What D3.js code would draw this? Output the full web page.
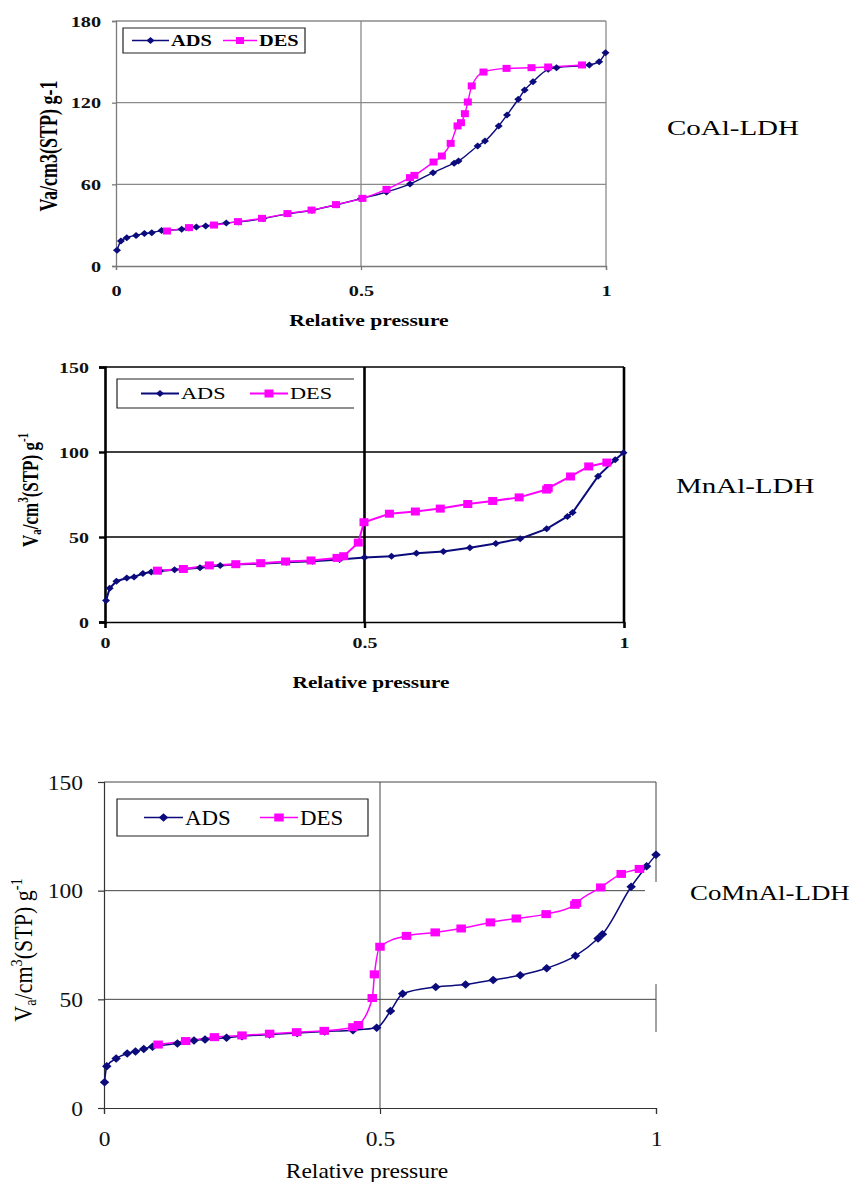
<!DOCTYPE html>
<html>
<head>
<meta charset="utf-8">
<script src="https://cdn.jsdelivr.net/npm/d3@7"></script>
<style>
  body { margin: 0; background: #fff; }
  svg { display: block; }
</style>
</head>
<body>
<svg id="chart" width="858" height="1182"></svg>
<script>
// CoAl-LDH isotherm
var coalAdsP = [0.002, 0.01, 0.022, 0.041, 0.058, 0.073, 0.093, 0.134, 0.149, 0.164, 0.183, 0.225, 0.25, 0.3, 0.35, 0.4, 0.45, 0.5, 0.552, 0.6, 0.647, 0.69, 0.699, 0.738, 0.753, 0.781, 0.798, 0.821, 0.834, 0.851, 0.882, 0.899, 0.966, 0.986, 0.999];
var coalAdsV = [11.5, 18.4, 20.8, 22.5, 23.8, 24.5, 26, 27, 27.9, 28.7, 29.4, 31.6, 32.4, 34.8, 38.3, 41, 45, 49.5, 54.4, 60.2, 68.6, 75.5, 77.1, 88.2, 91.8, 102.9, 111, 122.5, 129.3, 135.4, 144.5, 145.7, 147.7, 150.1, 156.7];
var coalDesP = [0.104, 0.149, 0.2, 0.249, 0.298, 0.35, 0.399, 0.449, 0.503, 0.552, 0.6, 0.609, 0.648, 0.665, 0.683, 0.697, 0.704, 0.712, 0.718, 0.726, 0.75, 0.797, 0.848, 0.882, 0.951];
var coalDesV = [25.7, 28.2, 30.1, 32.6, 35, 38.5, 41.1, 45.1, 49.7, 56.3, 64.9, 66.6, 76.4, 80.8, 90.1, 102.9, 105.3, 111.9, 120.5, 132.3, 142.5, 145.2, 145.7, 146.2, 147.7];

// MnAl-LDH isotherm
var mnalAdsP = [0.002, 0.009, 0.022, 0.042, 0.056, 0.073, 0.089, 0.106, 0.134, 0.183, 0.222, 0.25, 0.3, 0.35, 0.4, 0.452, 0.5, 0.552, 0.6, 0.652, 0.703, 0.753, 0.8, 0.851, 0.891, 0.901, 0.95, 0.983, 0.999];
var mnalAdsV = [12.7, 19.8, 24, 25.9, 26.5, 28.5, 29.4, 30, 30.8, 31.9, 33.3, 33.8, 34.3, 35.1, 35.8, 36.7, 37.9, 38.7, 40.4, 41.5, 43.7, 46.2, 49, 54.8, 62.1, 64.4, 85.8, 95.4, 99.6];
var mnalDesP = [0.101, 0.151, 0.201, 0.252, 0.3, 0.348, 0.397, 0.447, 0.46, 0.488, 0.499, 0.548, 0.598, 0.646, 0.699, 0.747, 0.798, 0.851, 0.854, 0.897, 0.932, 0.967];
var mnalDesV = [30.2, 31.2, 33.3, 34, 34.6, 35.6, 36.2, 37.7, 38.7, 46.7, 58.7, 63.7, 65, 66.7, 69.4, 71.2, 73.3, 77.9, 78.8, 85.6, 91.5, 93.8];

// CoMnAl-LDH isotherm
var comnalAdsP = [0.001, 0.005, 0.022, 0.042, 0.057, 0.072, 0.088, 0.133, 0.163, 0.183, 0.222, 0.25, 0.3, 0.35, 0.4, 0.451, 0.494, 0.519, 0.541, 0.601, 0.655, 0.705, 0.754, 0.802, 0.854, 0.895, 0.903, 0.955, 0.983, 1.0];
var comnalAdsV = [11.8, 19.2, 22.8, 25.1, 26, 27.2, 28.2, 29.7, 31.1, 31.5, 32.3, 33, 33.8, 34.5, 35.2, 35.8, 36.9, 44.6, 52.6, 55.7, 56.8, 58.9, 61.1, 64.3, 70, 78, 80, 101.8, 111.2, 116.5];
var comnalDesP = [0.098, 0.148, 0.2, 0.25, 0.3, 0.349, 0.399, 0.451, 0.461, 0.486, 0.49, 0.5, 0.548, 0.6, 0.647, 0.7, 0.747, 0.801, 0.853, 0.856, 0.9, 0.937, 0.97];
var comnalDesV = [29.2, 30.8, 32.6, 33.4, 34.2, 34.9, 35.5, 37.2, 38.2, 50.6, 61.5, 74.2, 79.2, 80.8, 82.6, 85.4, 87.2, 89.2, 93.5, 94.3, 101.5, 107.7, 110];

var xTicks = [0, 0.5, 1];
var xTickLabels = ["0", "0.5", "1"];
var coalYTicks = [0, 60, 120, 180];
var mnYTicks = [0, 50, 100, 150];
var seriesNames = ["ADS", "DES"];
var sampleNames = ["CoAl-LDH", "MnAl-LDH", "CoMnAl-LDH"];

var ADS_COLOR = "#0b0b7c";
var DES_COLOR = "#ff00ff";
var FONT = "'Liberation Serif', 'Times New Roman', serif";

var svg = d3.select("#chart");

function pts(ps, vs) {
  return ps.map(function(p, i) { return { p: p, v: vs[i] }; });
}

// text stretched sideways like the scanned figure
function stext(g, x, y, str, size, weight, sx, anchor) {
  return g.append("text")
    .attr("transform", "translate(" + x + "," + y + ") scale(" + sx + ",1)")
    .attr("text-anchor", anchor || "start")
    .attr("dominant-baseline", "central")
    .style("font-family", FONT)
    .style("font-size", size + "px")
    .style("font-weight", weight)
    .text(str);
}

function diamond(g, cx, cy, w, h, color) {
  g.append("path")
    .attr("d", "M" + cx + "," + (cy - h / 2) + "L" + (cx + w / 2) + "," + cy +
               "L" + cx + "," + (cy + h / 2) + "L" + (cx - w / 2) + "," + cy + "Z")
    .attr("fill", color);
}

function square(g, cx, cy, w, h, color) {
  g.append("rect")
    .attr("x", cx - w / 2).attr("y", cy - h / 2)
    .attr("width", w).attr("height", h)
    .attr("fill", color);
}

function drawPanel(c) {
  var g = svg.append("g");
  var x = d3.scaleLinear().domain([0, 1]).range([c.left, c.right]);
  var y = d3.scaleLinear().domain([0, c.yMax]).range([c.bottom, c.top]);
  var weight = c.bold ? "bold" : "normal";

  // horizontal gridlines
  c.yTicks.slice(1).forEach(function(t) {
    var xe = (t < c.yMax && c.hGridEnd) ? x(c.hGridEnd[t] || 1) : c.right;
    g.append("line")
      .attr("x1", c.left).attr("x2", xe)
      .attr("y1", y(t)).attr("y2", y(t))
      .attr("stroke", c.gridColor).attr("stroke-width", c.hGridW);
  });
  // vertical gridline at 0.5
  g.append("line")
    .attr("x1", x(0.5)).attr("x2", x(0.5))
    .attr("y1", c.top).attr("y2", c.bottom)
    .attr("stroke", c.gridColor).attr("stroke-width", c.vGridW);
  // right border
  c.rightSegs.forEach(function(s) {
    g.append("line")
      .attr("x1", x(1)).attr("x2", x(1))
      .attr("y1", y(s[0])).attr("y2", y(s[1]))
      .attr("stroke", c.gridColor).attr("stroke-width", c.rightW);
  });

  // axes
  var yAxis = d3.axisLeft(y).tickValues(c.yTicks).tickSize(c.tickLen).tickFormat(d3.format("d"));
  var ya = g.append("g").attr("transform", "translate(" + c.left + ",0)").call(yAxis);
  var xAxis = d3.axisBottom(x).tickValues(xTicks).tickSize(c.tickLen)
    .tickFormat(function(d, i) { return xTickLabels[i]; });
  var xa = g.append("g").attr("transform", "translate(0," + c.bottom + ")").call(xAxis);

  [ya, xa].forEach(function(a) {
    a.select(".domain").attr("stroke", c.axisColor).attr("stroke-width", c.axisW);
    a.selectAll(".tick line").attr("stroke", c.axisColor).attr("stroke-width", c.tickW);
    a.selectAll("text")
      .style("font-family", FONT).style("font-size", c.tickFont + "px")
      .style("font-weight", weight).attr("fill", "#111");
  });
  ya.select(".domain").attr("stroke-width", c.yAxisW);
  ya.selectAll(".tick text")
    .attr("x", null).attr("dy", null)
    .attr("dominant-baseline", "central")
    .attr("transform", "translate(" + (c.yLabelEnd - c.left) + ",0) scale(" + c.sx + ",1)");
  xa.selectAll(".tick text")
    .attr("y", null).attr("dy", null)
    .attr("dominant-baseline", "central")
    .attr("transform", "translate(0," + (c.xLabelY - c.bottom) + ") scale(" + c.sx + ",1)");

  // axis titles
  stext(g, c.xTitle[0], c.xTitle[1], "Relative pressure", c.titleFont, weight, c.sx, "middle");
  var yt = g.append("text")
    .attr("transform", "translate(" + c.yTitle[0] + "," + c.yTitle[1] + ") scale(" + c.sx + ",1) rotate(-90)")
    .attr("text-anchor", "middle")
    .attr("dominant-baseline", "central")
    .style("font-family", FONT).style("font-size", c.yTitleFont + "px")
    .style("font-weight", weight);
  if (c.richTitle) {
    var s = c.yTitleFont;
    yt.append("tspan").text("V");
    yt.append("tspan").attr("dy", s * 0.25).style("font-size", (s * 0.65) + "px").text("a");
    yt.append("tspan").attr("dy", -s * 0.25).text("/cm");
    yt.append("tspan").attr("dy", -s * 0.35).style("font-size", (s * 0.65) + "px").text("3");
    yt.append("tspan").attr("dy", s * 0.35).text("(STP) g");
    yt.append("tspan").attr("dy", -s * 0.35).style("font-size", (s * 0.65) + "px").text("-1");
  } else {
    yt.text("Va/cm3(STP) g-1");
  }

  // series
  var line = d3.line().x(function(d) { return x(d.p); }).y(function(d) { return y(d.v); })
    .curve(c.smooth ? d3.curveMonotoneX : d3.curveLinear);
  var ads = pts(c.ads[0], c.ads[1]);
  var des = pts(c.des[0], c.des[1]);
  g.append("path").datum(ads).attr("d", line)
    .attr("fill", "none").attr("stroke", ADS_COLOR).attr("stroke-width", c.lineW);
  g.append("path").datum(des).attr("d", line)
    .attr("fill", "none").attr("stroke", DES_COLOR).attr("stroke-width", c.lineW);
  ads.forEach(function(d) { diamond(g, x(d.p), y(d.v), c.dia[0], c.dia[1], ADS_COLOR); });
  des.forEach(function(d) { square(g, x(d.p), y(d.v), c.sq[0], c.sq[1], DES_COLOR); });

  // legend
  var L = c.legend;
  var boxPath = "M" + L.x1 + "," + L.y0 + "H" + L.x0 + "V" + L.y1 + "H" + L.x1 + (L.open ? "" : "Z");
  g.append("path").attr("d", boxPath).attr("fill", "none")
    .attr("stroke", "#222").attr("stroke-width", L.boxW);
  var ly = (L.y0 + L.y1) / 2;
  g.append("line").attr("x1", L.ads[0]).attr("x2", L.ads[1]).attr("y1", ly).attr("y2", ly)
    .attr("stroke", ADS_COLOR).attr("stroke-width", c.lineW);
  diamond(g, (L.ads[0] + L.ads[1]) / 2, ly, c.dia[0], c.dia[1], ADS_COLOR);
  g.append("line").attr("x1", L.des[0]).attr("x2", L.des[1]).attr("y1", ly).attr("y2", ly)
    .attr("stroke", DES_COLOR).attr("stroke-width", c.lineW);
  square(g, (L.des[0] + L.des[1]) / 2, ly, c.sq[0], c.sq[1], DES_COLOR);
  stext(g, L.ads[1] + 2, ly, seriesNames[0], L.font, L.weight, L.sx, "start");
  stext(g, L.des[1] + 2, ly, seriesNames[1], L.font, L.weight, L.sx, "start");

  // sample name on the right
  stext(svg, c.name[0], c.name[1], c.name[2], 21, "normal", c.name[3], "start");
}

drawPanel({
  left: 116, right: 606, top: 21, bottom: 266, yMax: 180, yTicks: coalYTicks,
  bold: true, sx: 1.35, tickFont: 15, titleFont: 16, yTitleFont: 18, richTitle: false,
  gridColor: "#8a8a8a", axisColor: "#7a7a7a", hGridW: 1.3, vGridW: 1.3, rightW: 1.3,
  axisW: 1.3, yAxisW: 1.3, tickW: 1.3, tickLen: 4,
  rightSegs: [[0, 180]],
  yLabelEnd: 101, xLabelY: 291, xTitle: [369, 321], yTitle: [49, 146],
  smooth: true, lineW: 1.4, dia: [8, 7], sq: [8, 7],
  ads: [coalAdsP, coalAdsV], des: [coalDesP, coalDesV],
  legend: { x0: 123, x1: 305, y0: 28, y1: 53, open: false, boxW: 1.2,
            ads: [132, 169], des: [223, 257], font: 17, weight: "bold", sx: 1.2 },
  name: [667, 128, sampleNames[0], 1.38]
});

drawPanel({
  left: 105, right: 624, top: 367, bottom: 622, yMax: 150, yTicks: mnYTicks,
  bold: true, sx: 1.33, tickFont: 15, titleFont: 16, yTitleFont: 17, richTitle: true,
  gridColor: "#000", axisColor: "#000", hGridW: 1.5, vGridW: 2.6, rightW: 2.6,
  axisW: 1.6, yAxisW: 2.6, tickW: 2.4, tickLen: 6,
  rightSegs: [[0, 150]],
  yLabelEnd: 89, xLabelY: 643, xTitle: [371, 682], yTitle: [30, 490],
  smooth: false, lineW: 2, dia: [8, 7], sq: [9, 8],
  ads: [mnalAdsP, mnalAdsV], des: [mnalDesP, mnalDesV],
  legend: { x0: 117, x1: 354, y0: 379, y1: 408, open: true, boxW: 1.2,
            ads: [141, 179], des: [250, 288], font: 16.5, weight: "normal", sx: 1.35 },
  name: [676, 486, sampleNames[1], 1.38]
});

drawPanel({
  left: 104, right: 656, top: 782, bottom: 1108, yMax: 150, yTicks: mnYTicks,
  bold: false, sx: 1.12, tickFont: 21, titleFont: 21, yTitleFont: 22, richTitle: true,
  gridColor: "#444", axisColor: "#333", hGridW: 1, vGridW: 1, rightW: 1,
  axisW: 1.2, yAxisW: 1.2, tickW: 1.2, tickLen: 6,
  hGridEnd: { 100: 0.98 },
  rightSegs: [[150, 104], [57, 35]],
  yLabelEnd: 83, xLabelY: 1139, xTitle: [367, 1171], yTitle: [24, 950],
  smooth: true, lineW: 1.5, dia: [9.5, 8.5], sq: [9.5, 8],
  ads: [comnalAdsP, comnalAdsV], des: [comnalDesP, comnalDesV],
  legend: { x0: 117, x1: 368, y0: 799, y1: 836, open: false, boxW: 1.2,
            ads: [144, 183], des: [260, 298], font: 21, weight: "normal", sx: 1.09 },
  name: [690, 893, sampleNames[2], 1.28]
});
</script>
</body>
</html>
